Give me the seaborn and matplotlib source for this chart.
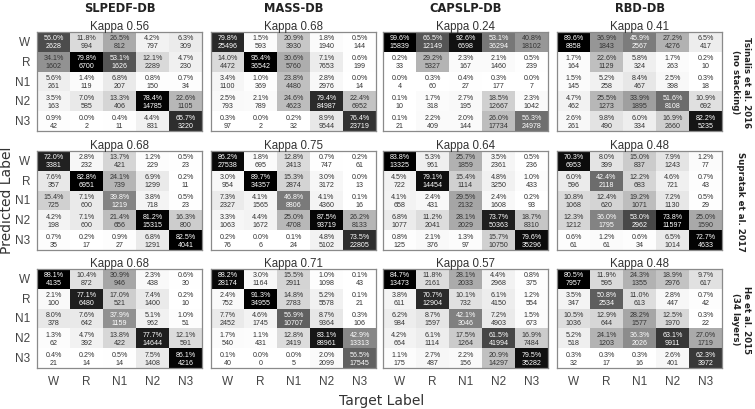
import numpy as np
import matplotlib
matplotlib.use("Agg")
import matplotlib.pyplot as plt
import seaborn as sns

# ===================== DATA =====================
stages = ["W", "R", "N1", "N2", "N3"]
datasets = ["SLPEDF-DB", "MASS-DB", "CAPSLP-DB", "RBD-DB"]
methods = ["Tsinalis et al. 2016\n(no stacking)", "Supratak et al. 2017", "He et al. 2015\n(34 layers)"]
kappas = [[0.56, 0.68, 0.24, 0.41],
          [0.68, 0.75, 0.64, 0.48],
          [0.68, 0.71, 0.57, 0.48]]

# rows = predicted, cols = target  (percent, count)
tsinalis_slpedf_pct = [[56.0, 11.8, 26.5, 4.2, 6.3], [34.1, 79.8, 53.1, 12.1, 4.7], [5.6, 1.4, 6.8, 0.8, 0.7],
                       [3.5, 7.0, 13.3, 78.4, 22.6], [0.9, 0.0, 0.4, 4.4, 65.7]]
tsinalis_slpedf_n = [[2628, 994, 812, 797, 309], [1602, 6700, 1626, 2289, 230], [261, 119, 207, 150, 34],
                     [163, 585, 406, 14785, 1105], [42, 2, 11, 831, 3220]]
tsinalis_mass_pct = [[79.8, 1.5, 20.9, 1.8, 0.5], [14.0, 95.4, 30.6, 7.1, 0.6], [3.4, 1.0, 23.8, 2.8, 0.0],
                     [2.5, 2.1, 24.6, 79.4, 22.4], [0.3, 0.0, 0.2, 8.9, 76.4]]
tsinalis_mass_n = [[25496, 593, 3930, 1940, 144], [4472, 36542, 5760, 7653, 199], [1100, 369, 4480, 2976, 14],
                   [793, 789, 4623, 84987, 6952], [97, 2, 32, 9544, 23719]]
tsinalis_capslp_pct = [[99.6, 66.5, 92.6, 53.1, 40.8], [0.2, 29.2, 2.3, 2.1, 0.5], [0.0, 0.3, 0.4, 0.3, 0.0],
                       [0.1, 1.7, 2.7, 18.5, 2.3], [0.1, 2.2, 2.0, 26.0, 56.3]]
tsinalis_capslp_n = [[15839, 12149, 6698, 36294, 18102], [33, 5327, 167, 1460, 239], [4, 60, 27, 177, 7],
                     [10, 318, 195, 12667, 1042], [21, 409, 144, 17734, 24978]]
tsinalis_rbd_pct = [[89.6, 36.9, 45.9, 27.2, 6.5], [1.7, 22.6, 5.8, 1.7, 0.2], [1.5, 5.2, 8.4, 2.5, 0.3],
                    [4.7, 25.5, 33.9, 51.6, 10.9], [2.6, 9.8, 6.0, 16.9, 82.2]]
tsinalis_rbd_n = [[8858, 1843, 2567, 4276, 417], [164, 1129, 324, 263, 10], [145, 258, 467, 398, 18],
                  [462, 1273, 1895, 8108, 692], [261, 490, 334, 2660, 5235]]

supratak_slpedf_pct = [[72.0, 2.8, 13.7, 1.2, 0.5], [7.6, 82.8, 24.1, 6.9, 0.2], [15.4, 7.1, 39.8, 3.8, 0.5],
                       [4.2, 7.1, 21.4, 81.2, 16.3], [0.7, 0.2, 0.9, 6.8, 82.5]]
supratak_slpedf_n = [[3381, 232, 421, 229, 23], [357, 6951, 739, 1299, 11], [725, 600, 1219, 718, 23],
                     [198, 600, 656, 15315, 800], [35, 17, 27, 1291, 4041]]
supratak_mass_pct = [[86.2, 1.8, 12.8, 0.7, 0.2], [3.0, 89.7, 15.3, 3.0, 0.0], [7.3, 4.1, 46.8, 4.1, 0.1],
                     [3.3, 4.4, 25.0, 87.5, 26.2], [0.2, 0.0, 0.1, 4.8, 73.5]]
supratak_mass_n = [[27538, 695, 2413, 747, 61], [954, 34357, 2874, 3172, 13], [2327, 1565, 8806, 4360, 16],
                   [1063, 1672, 4708, 93719, 8133], [76, 6, 24, 5102, 22805]]
supratak_capslp_pct = [[83.8, 5.3, 25.7, 3.5, 0.5], [4.5, 79.1, 15.4, 4.8, 1.0], [4.1, 2.4, 29.5, 2.4, 0.2],
                       [6.8, 11.2, 28.1, 73.7, 18.7], [0.8, 2.1, 1.3, 15.7, 79.6]]
supratak_capslp_n = [[13325, 961, 1859, 2361, 236], [722, 14454, 1114, 3250, 433], [658, 431, 2132, 1608, 93],
                     [1077, 2041, 2029, 50363, 8310], [125, 376, 97, 10750, 35296]]
supratak_rbd_pct = [[70.3, 8.0, 15.0, 7.9, 1.2], [6.0, 42.4, 12.2, 4.6, 0.7], [10.8, 12.4, 19.2, 7.2, 0.5],
                    [12.3, 36.0, 53.0, 73.8, 25.0], [0.6, 1.2, 0.6, 6.5, 72.7]]
supratak_rbd_n = [[6953, 399, 837, 1243, 77], [596, 2118, 683, 721, 43], [1068, 620, 1071, 1130, 29],
                  [1212, 1795, 2962, 11597, 1590], [61, 61, 34, 1014, 4633]]

he_slpedf_pct = [[88.1, 10.4, 30.9, 2.3, 0.6], [2.1, 77.1, 17.0, 7.4, 0.2], [8.0, 7.6, 37.9, 5.1, 1.0],
                 [1.3, 4.7, 13.8, 77.7, 12.1], [0.4, 0.2, 0.5, 7.5, 86.1]]
he_slpedf_n = [[4135, 872, 946, 438, 30], [100, 6480, 521, 1400, 10], [378, 642, 1159, 962, 51],
               [62, 392, 422, 14644, 591], [21, 14, 14, 1408, 4216]]
he_mass_pct = [[88.2, 3.0, 15.5, 1.0, 0.1], [2.4, 91.3, 14.8, 5.2, 0.1], [7.7, 4.6, 56.9, 8.7, 0.3],
               [1.7, 1.1, 12.8, 83.1, 42.9], [0.1, 0.0, 0.0, 2.0, 56.5]]
he_mass_n = [[28174, 1164, 2911, 1098, 43], [752, 34955, 2783, 5578, 21], [2452, 1745, 10707, 9364, 106],
             [540, 431, 2419, 88961, 13313], [40, 0, 5, 2099, 17545]]
he_capslp_pct = [[84.7, 11.8, 28.1, 4.4, 0.8], [3.8, 70.7, 10.1, 6.1, 1.2], [6.2, 8.7, 42.1, 7.2, 1.5],
                 [4.2, 6.1, 17.5, 61.5, 16.9], [1.1, 2.7, 2.2, 20.9, 79.5]]
he_capslp_n = [[13473, 2161, 2033, 2968, 375], [611, 12904, 732, 4150, 554], [984, 1597, 3046, 4903, 673],
               [664, 1114, 1264, 41994, 7484], [175, 487, 156, 14297, 35282]]
he_rbd_pct = [[80.5, 11.9, 24.3, 18.9, 9.7], [3.5, 50.8, 11.0, 2.8, 0.7], [10.5, 12.9, 28.2, 12.5, 0.3],
              [5.2, 24.1, 36.3, 63.1, 27.0], [0.3, 0.3, 0.3, 2.6, 62.3]]
he_rbd_n = [[7957, 595, 1355, 2976, 617], [347, 2534, 613, 447, 42], [1036, 644, 1577, 1970, 22],
            [518, 1203, 2026, 9911, 1719], [32, 17, 16, 401, 3972]]

pct_grid = [[tsinalis_slpedf_pct, tsinalis_mass_pct, tsinalis_capslp_pct, tsinalis_rbd_pct],
            [supratak_slpedf_pct, supratak_mass_pct, supratak_capslp_pct, supratak_rbd_pct],
            [he_slpedf_pct, he_mass_pct, he_capslp_pct, he_rbd_pct]]
n_grid = [[tsinalis_slpedf_n, tsinalis_mass_n, tsinalis_capslp_n, tsinalis_rbd_n],
          [supratak_slpedf_n, supratak_mass_n, supratak_capslp_n, supratak_rbd_n],
          [he_slpedf_n, he_mass_n, he_capslp_n, he_rbd_n]]

# ===================== PLOT =====================
W, H = 755, 410
fig = plt.figure(figsize=(W / 100, H / 100), dpi=100)

lefts = [37, 211, 383, 557]
tops = [33, 152, 270]
pw, ph = 165, 99

for i in range(3):
    for j in range(4):
        ax = fig.add_axes([lefts[j] / W, 1 - (tops[i] + ph) / H, pw / W, ph / H])
        pct = np.array(pct_grid[i][j])
        cnt = np.array(n_grid[i][j])
        labels = np.array([[f"{pct[r, c]:.1f}%\n{cnt[r, c]}" for c in range(5)] for r in range(5)])
        vmax = pct.max()
        sns.heatmap(pct, ax=ax, cmap="gray_r", vmin=0, vmax=vmax, cbar=False,
                    annot=labels, fmt="", xticklabels=stages, yticklabels=stages,
                    annot_kws={"fontsize": 5.1, "family": "Liberation Sans", "linespacing": 1.2})
        # dark cells get white text
        for t, p in zip(ax.texts, pct.flatten()):
            t.set_color("white" if p / vmax > 0.429 else "#333333")
        for s in ax.spines.values():
            s.set_visible(True)
            s.set_color("#8a8a8a")
            s.set_linewidth(0.9)
        ax.tick_params(length=0, pad=5)
        if j == 0:
            ax.set_yticklabels(stages, rotation=0, fontsize=8.5, color="#444444", family="Liberation Sans")
        else:
            ax.set_yticklabels([])
        if i == 2:
            ax.set_xticklabels(stages, rotation=0, fontsize=8.5, color="#444444", family="Liberation Sans")
        else:
            ax.set_xticklabels([])
        ax.set_title(f"Kappa {kappas[i][j]:.2f}", fontsize=8.3, family="Liberation Sans",
                     color="#333333", pad=2.5)

for j, name in enumerate(datasets):
    fig.text((lefts[j] + pw / 2) / W, 1 - 8 / H, name, ha="center", va="center",
             fontsize=8.3, fontweight="bold", family="DejaVu Sans", color="#222222")

for i, m in enumerate(methods):
    fig.text(741 / W, 1 - (tops[i] + ph / 2) / H, m, ha="center", va="center", rotation=-90,
             fontsize=6.2, fontweight="bold", family="DejaVu Sans", color="#222222", linespacing=1.3)

fig.text(7 / W, 1 - 200 / H, "Predicted Label", rotation=90, ha="center", va="center",
         fontsize=10, family="DejaVu Sans", color="#333333")
fig.text(382 / W, 1 - 401 / H, "Target Label", ha="center", va="center",
         fontsize=10, family="DejaVu Sans", color="#333333")

fig.savefig("out.png", dpi=100)
